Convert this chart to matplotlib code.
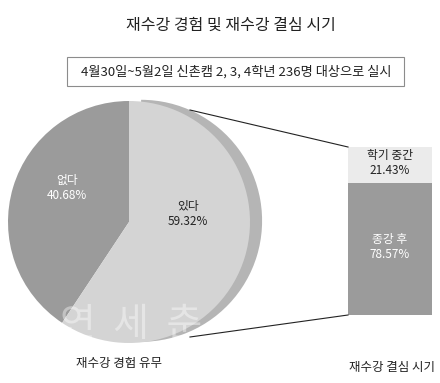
import matplotlib
matplotlib.use("Agg")
import matplotlib.pyplot as plt
from matplotlib.patches import Wedge, Rectangle

plt.rcParams['font.family'] = ['Noto Sans CJK KR', 'DejaVu Sans']

# ---- data ----
pie_labels = ['없다', '있다']
pie_values = [40.68, 59.32]
pie_colors = ['#9b9b9b', '#d4d4d4']

bar_labels = ['종강 후', '학기 중간']
bar_values = [78.57, 21.43]
bar_colors = ['#9b9b9b', '#ebebeb']
bar_text_colors = ['white', '#222222']

title = '재수강 경험 및 재수강 결심 시기'
subtitle = '4월30일~5월2일 신촌캠 2, 3, 4학년 236명 대상으로 실시'

W, H = 440, 383
fig = plt.figure(figsize=(W / 100, H / 100), dpi=100)

def px_axes(x0, y0, w, h):
    # pixel box (top-left origin) -> figure axes
    return fig.add_axes([x0 / W, 1 - (y0 + h) / H, w / W, h / H])

# ---- background overlay for texts and lines ----
bg = fig.add_axes([0, 0, 1, 1], zorder=0)
bg.set_xlim(0, W)
bg.set_ylim(H, 0)
bg.axis('off')

bg.text(231, 25, title, ha='center', va='center', fontsize=11.5, color='#222222')
bg.add_patch(Rectangle((67, 57), 337, 29, fill=False, edgecolor='#8c8c8c', lw=0.8))
bg.text(236, 71.5, subtitle, ha='center', va='center', fontsize=9.5, color='#222222')

bg.text(119, 364, '재수강 경험 유무', ha='center', va='center', fontsize=9, color='#222222')
bg.text(392, 368, '재수강 결심 시기', ha='center', va='center', fontsize=9, color='#222222')

# ---- pie ----
cx, cy, r = 129, 222, 121
pad = 135
pax = px_axes(cx - pad, cy - pad, 2 * pad, 2 * pad)
pax.set_zorder(1)
total = sum(pie_values)
theta_split = 90 + 360 * pie_values[0] / total
# extruded edge of the 있다 slice
pax.add_patch(Wedge((0.1, 0.01), 1, theta_split - 360, 90, facecolor='#b5b5b5', edgecolor='none', zorder=0))
pax.pie(pie_values, colors=pie_colors, startangle=90, counterclock=True, radius=1,
        wedgeprops=dict(edgecolor='none'))
pax.set_xlim(-pad / r, pad / r)
pax.set_ylim(-pad / r, pad / r)
pax.set_aspect('equal')
pax.axis('off')

pax.text(-0.51, 0.28, f'{pie_labels[0]}\n{pie_values[0]:.2f}%', ha='center', va='center',
         fontsize=8.5, color='white', linespacing=1.2)
pax.text(0.49, 0.07, f'{pie_labels[1]}\n{pie_values[1]:.2f}%', ha='center', va='center',
         fontsize=8.5, color='#222222', linespacing=1.2)

# watermark
pax.text(0.24, -0.855, '연  세  춘  추', ha='center', va='center', fontsize=28,
         color='white', alpha=0.4)

# ---- stacked bar ----
bax = px_axes(348, 147, 84, 168)
bax.set_zorder(2)
bottom = 0
for lab, val, col, tc in zip(bar_labels, bar_values, bar_colors, bar_text_colors):
    bax.bar(0, val, bottom=bottom, width=1, color=col, edgecolor='none')
    bax.text(0, bottom + val / 2 + 1, f'{lab}\n{val:.2f}%', ha='center', va='center',
             fontsize=8.5, color=tc, linespacing=1.2)
    bottom += val
bax.set_xlim(-0.5, 0.5)
bax.set_ylim(0, 100)
bax.axis('off')

# ---- connector lines ----
top = fig.add_axes([0, 0, 1, 1], zorder=3)
top.set_xlim(0, W)
top.set_ylim(H, 0)
top.axis('off')
top.patch.set_alpha(0)
top.plot([190, 348], [110, 147], color='#222222', lw=0.8)
top.plot([190, 348], [337, 315], color='#222222', lw=0.8)

fig.savefig('out.png', dpi=100)
